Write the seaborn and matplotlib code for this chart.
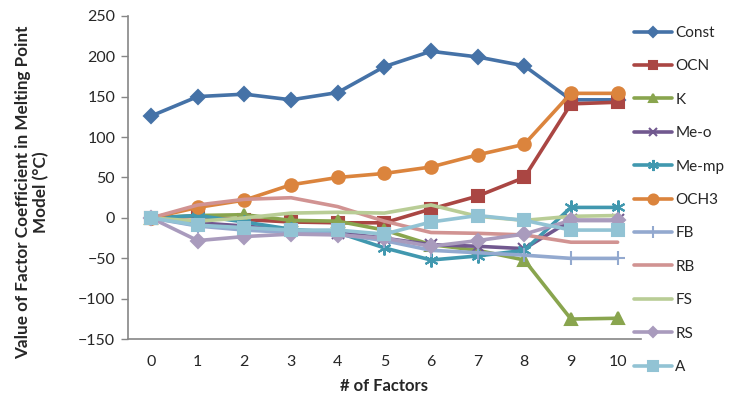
import numpy as np
import pandas as pd
import matplotlib
matplotlib.use("Agg")
import matplotlib.pyplot as plt
import matplotlib.ticker as mticker
import seaborn as sns

factors = list(range(11))
series_names = ["Const", "OCN", "K", "Me-o", "Me-mp", "OCH3", "FB", "RB", "FS", "RS", "A"]

const = [126, 150, 153, 146, 155, 187, 206, 199, 188, 146, 146]
ocn   = [0, 2, -2, -5, -6, -6, 11, 27, 50, 141, 143]
k     = [0, 3, 4, -3, -4, -15, -33, -40, -52, -125, -124]
me_o  = [0, -6, -10, -15, -18, -25, -33, -35, -38, -3, -3]
me_mp = [0, 3, -5, -14, -18, -37, -52, -47, -40, 13, 13]
och3  = [0, 13, 22, 41, 50, 55, 63, 78, 91, 154, 154]
fb    = [0, -10, -15, -18, -20, -28, -40, -43, -46, -50, -50]
rb    = [0, 16, 23, 25, 14, -4, -18, -19, -21, -30, -30]
fs    = [0, -4, 0, 6, 7, 6, 16, 2, -3, 2, 3]
rs    = [0, -28, -23, -20, -21, -25, -35, -28, -20, -3, -3]
a     = [0, -9, -12, -15, -15, -20, -5, 3, -3, -15, -15]

values = [const, ocn, k, me_o, me_mp, och3, fb, rb, fs, rs, a]
colors = ["#4572A7", "#AA4643", "#89A54E", "#71588F", "#4198AF", "#DB843D",
          "#93A9CF", "#D19392", "#B9CD96", "#A99BBD", "#92C3D4"]
markers = ["D", "s", "^", "x", (6, 2, 0), "o", "+", None, None, "D", "s"]
msizes = [7, 8, 8, 8, 10, 9, 10, 0, 0, 7, 9]

sns.set_theme(style="white")
plt.rcParams["font.family"] = ["Lato", "DejaVu Sans"]

fig = plt.figure(figsize=(7.3, 3.98), dpi=100)
ax = fig.add_axes([0.175, 0.1475, 0.703, 0.8131])

for name, vals, c, m, ms in zip(series_names, values, colors, markers, msizes):
    df = pd.DataFrame({"x": factors, "y": vals})
    kw = dict(marker=m, markersize=ms, markeredgecolor=c, markerfacecolor=c,
              markeredgewidth=1.5) if m is not None else {}
    sns.lineplot(data=df, x="x", y="y", ax=ax, color=c, linewidth=2.6,
                 label=name, **kw)

ax.set_xlim(-0.5, 10.5)
ax.set_ylim(-150, 250)
ax.yaxis.set_major_locator(mticker.MultipleLocator(50))
ax.set_xticks(factors)
ax.set_xticks(np.arange(-0.5, 11, 1), minor=True)
ax.tick_params(axis="x", which="major", length=0, pad=11, labelsize=11.5)
ax.tick_params(axis="x", which="minor", length=5, width=1, color="#868686", direction="out")
ax.tick_params(axis="y", which="major", length=5, width=1, color="#868686",
               direction="out", left=True, labelsize=11.5, pad=4)
for s in ["top", "right"]:
    ax.spines[s].set_visible(False)
for s in ["left", "bottom"]:
    ax.spines[s].set_color("#868686")
    ax.spines[s].set_linewidth(1.2)

ax.set_xlabel("# of Factors", fontsize=12, fontweight="bold", labelpad=7)
ax.set_ylabel("Value of Factor Coefficient in Melting Point\nModel (°C)",
              fontsize=12.3, fontweight="bold", linespacing=1.15)
ax.yaxis.set_label_coords(-0.153, 0.455)

leg = ax.legend(loc="upper left", bbox_to_anchor=(634 / 730, 1 - 26 / 398),
                bbox_transform=fig.transFigure, frameon=False,
                fontsize=11, labelspacing=1.27, handlelength=2.5,
                handletextpad=0.2, borderaxespad=0, borderpad=0)
for h in leg.get_lines():
    h.set_markersize(h.get_markersize() * 0.8)

fig.savefig("out.png", dpi=100)
